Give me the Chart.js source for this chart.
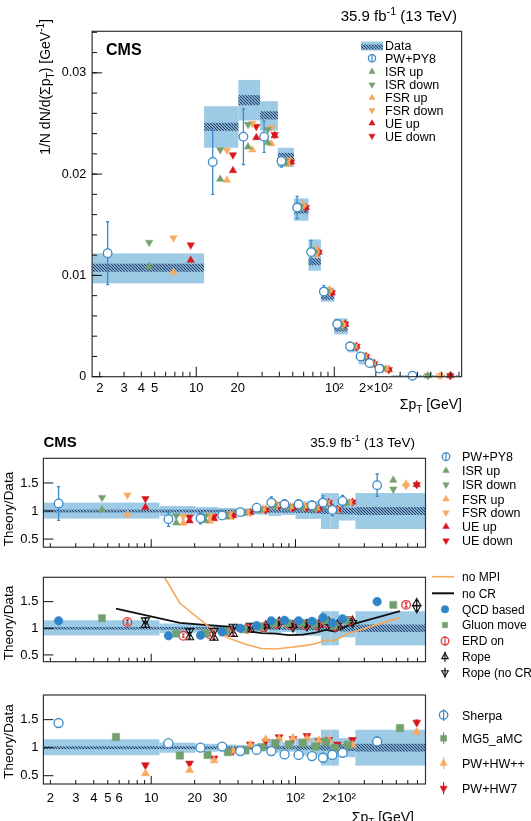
<!DOCTYPE html>
<html><head><meta charset="utf-8">
<script src="https://cdn.jsdelivr.net/npm/chart.js@4.4.1/dist/chart.umd.min.js"></script>
<style>
html,body{margin:0;padding:0;background:#fff;}
#wrap{position:relative;width:531px;height:821px;overflow:hidden;background:#fff;}
canvas{position:absolute;left:0;}
</style></head><body>
<div id="wrap">
<canvas id="c0" style="top:0px"></canvas>
<canvas id="c1" style="top:420px"></canvas>
<canvas id="c2" style="top:560px"></canvas>
<canvas id="c3" style="top:680px"></canvas>
</div>
<script>
// ================= DATA =================
const binEdges = [0, 11.4, 20.2, 29, 39, 51, 65, 80, 100, 125, 150, 175, 200, 260, 800];

// main panel: 1/N dN/d(sum pT)
const dataVal  = [0.01076, 0.02467, 0.0273, 0.0258, 0.0218, 0.0165, 0.01135, 0.0079, 0.00477, 0.00275, 0.00175, 0.0013, 0.00068, 0.00007];
const dataLo   = [0.00921, 0.0226, 0.0253, 0.0243, 0.0207, 0.0154, 0.01046, 0.0074, 0.00418, 0.0024, 0.0012, 0.0009, 0.00057, 0.00005];
const dataHi   = [0.01217, 0.0267, 0.0293, 0.0272, 0.0226, 0.0176, 0.01355, 0.0088, 0.00576, 0.0032, 0.0023, 0.0017, 0.0008, 0.00009];
const dataStat = [0.0004, 0.0004, 0.0005, 0.0004, 0.0003, 0.0004, 0.00035, 0.0003, 0.0003, 0.0002, 0.0002, 0.00015, 0.0001, 0.00005];
const pwpy8    = [0.0122, 0.0212, 0.0237, 0.0237, 0.0213, 0.0167, 0.0123, 0.0084, 0.0052, 0.0030, 0.0020, 0.00135, 0.0008, 0.0001];
const pwpy8Err = [0.0031, 0.0032, 0.00275, 0.00155, 0.0006, 0.0011, 0.00115, 0.0006, 0.00035, 0.0002, 0.00015, 0.0001, 0.00005, 0.00001];
const isrUp    = [0.0109, 0.0195, 0.0227, 0.0231, 0.0211, 0.0167, 0.0124, 0.0084, 0.0052, 0.0030, 0.0020, 0.00135, 0.0008, 0.0001];
const isrDown  = [0.01326, 0.0224, 0.0249, 0.0244, 0.0213, 0.0168, 0.0123, 0.0084, 0.0051, 0.0030, 0.0020, 0.0013, 0.0008, 0.0001];
const fsrUp    = [0.0103, 0.0194, 0.0224, 0.0230, 0.0210, 0.0170, 0.0126, 0.0086, 0.0052, 0.0030, 0.0020, 0.00135, 0.0008, 0.0001];
const fsrDown  = [0.0137, 0.02235, 0.0250, 0.0246, 0.0214, 0.0168, 0.0121, 0.0084, 0.0051, 0.0030, 0.0020, 0.0013, 0.0008, 0.0001];
const ueUp     = [0.0115, 0.02035, 0.0236, 0.0238, 0.0212, 0.0167, 0.0123, 0.0083, 0.0052, 0.0030, 0.0020, 0.0013, 0.0007, 0.0001];
const ueDown   = [0.0130, 0.0219, 0.0247, 0.0239, 0.0212, 0.0167, 0.0123, 0.0083, 0.0052, 0.0030, 0.0020, 0.0013, 0.0007, 0.0001];

// ratio panels: data uncertainty band (relative)
const ratioBandLo = [0.865, 0.91, 0.93, 0.945, 0.955, 0.935, 0.91, 0.93, 0.86, 0.86, 0.68, 0.68, 0.83, 0.68];
const ratioBandHi = [1.15, 1.09, 1.07, 1.055, 1.045, 1.065, 1.15, 1.10, 1.17, 1.18, 1.32, 1.32, 1.17, 1.32];
const ratioStat   = [0.025, 0.025, 0.025, 0.025, 0.025, 0.025, 0.03, 0.03, 0.035, 0.04, 0.05, 0.05, 0.06, 0.07];

// ratio panel 1
const r1PW      = [1.135, 0.855, 0.87, 0.92, 0.98, 1.06, 1.15, 1.12, 1.12, 1.10, 1.15, 1.02, 1.18, 1.46];
const r1PWErr   = [0.30, 0.13, 0.10, 0.06, 0.03, 0.07, 0.10, 0.08, 0.08, 0.08, 0.12, 0.10, 0.10, 0.20];
const r1ISRUp   = [1.02, 0.79, 0.83, 0.895, 0.965, 1.02, 1.09, 1.07, 1.08, 1.05, 1.13, 1.02, 1.14, 1.55];
const r1ISRDown = [1.24, 0.915, 0.91, 0.945, 0.98, 1.03, 1.10, 1.08, 1.07, 1.06, 1.12, 1.03, 1.15, 1.39];
const r1FSRUp   = [0.935, 0.785, 0.82, 0.89, 0.96, 1.04, 1.11, 1.08, 1.09, 1.05, 1.14, 1.01, 1.15, 1.48];
const r1FSRDown = [1.285, 0.905, 0.915, 0.955, 0.985, 1.03, 1.10, 1.07, 1.08, 1.06, 1.15, 1.03, 1.16, 1.45];
const r1UEUp    = [1.065, 0.825, 0.865, 0.92, 0.975, 1.02, 1.09, 1.06, 1.06, 1.04, 1.15, 1.03, 1.16, 1.47];
const r1UEDown  = [1.22, 0.89, 0.905, 0.92, 0.98, 1.02, 1.09, 1.06, 1.06, 1.04, 1.15, 1.03, 1.16, 1.47];

// ratio panel 2
const qcdBased  = [1.14, 0.86, 0.87, 0.93, 1.00, 1.05, 1.14, 1.15, 1.14, 1.13, 1.20, 1.10, 1.18, 1.50];
const gluonMove = [1.19, 0.90, 0.90, 0.94, 0.98, 1.03, 1.10, 1.10, 1.10, 1.08, 1.15, 1.05, 1.15, 1.44];
const erdOn     = [1.12, 0.86, 0.89, 0.93, 0.99, 1.02, 1.08, 1.06, 1.06, 1.06, 1.10, 1.03, 1.14, 1.44];
const erdOnErr  = [0.04, 0.03, 0.03, 0.03, 0.03, 0.03, 0.03, 0.03, 0.03, 0.03, 0.04, 0.04, 0.04, 0.04];
const rope      = [1.06, 0.83, 0.82, 0.89, 0.97, 1.05, 1.12, 1.06, 1.08, 1.07, 1.12, 1.07, 1.14, 1.47];
const ropeNoCR  = [1.15, 0.95, 0.95, 1.03, 1.05, 1.03, 1.08, 1.02, 1.04, 1.05, 1.08, 1.05, 1.10, 1.38];
const ropeErr   = [0.04, 0.03, 0.03, 0.03, 0.03, 0.03, 0.03, 0.03, 0.03, 0.03, 0.04, 0.04, 0.04, 0.05];
const noMPI     = [3.5, 1.47, 1.05, 0.82, 0.70, 0.62, 0.61, 0.64, 0.67, 0.71, 0.78, 0.77, 0.90, 1.20];
const noCR      = [1.37, 1.10, 1.06, 1.03, 0.95, 0.91, 0.90, 0.87, 0.88, 0.92, 0.97, 0.94, 1.05, 1.32];

// ratio panel 3
const sherpa     = [1.44, 1.08, 1.00, 1.02, 0.94, 0.96, 0.94, 0.88, 0.87, 0.85, 0.82, 0.87, 0.91, 1.11];
const sherpaErr  = [0.07, 0.02, 0.02, 0.02, 0.02, 0.02, 0.02, 0.02, 0.02, 0.03, 0.08, 0.05, 0.05, 0.08];
const mg5aMC     = [1.19, 0.86, 0.87, 0.92, 0.95, 1.01, 1.08, 1.06, 1.08, 1.02, 1.10, 1.00, 1.05, 1.35];
const mg5aMCErr  = [0.03, 0.02, 0.02, 0.02, 0.02, 0.02, 0.02, 0.02, 0.02, 0.02, 0.03, 0.03, 0.03, 0.04];
const pwHWpp     = [0.54, 0.60, 0.77, 0.94, 1.05, 1.15, 1.16, 1.17, 1.16, 1.13, 1.14, 0.96, 1.05, 1.28];
const pwHW7      = [0.69, 0.72, 0.81, 0.94, 1.06, 1.11, 1.19, 1.16, 1.21, 1.12, 1.14, 1.06, 1.14, 1.45];
const hwErr      = [0.03, 0.02, 0.02, 0.02, 0.02, 0.02, 0.02, 0.02, 0.02, 0.02, 0.03, 0.03, 0.03, 0.04];

// tick labels
const mainXTickVals    = [2, 3, 4, 5, 10, 20, 100, 200];
const mainXTickLabels  = ['2', '3', '4', '5', '10', '20', '10²', '2×10²'];
const ratioXTickVals   = [2, 3, 4, 5, 6, 10, 20, 30, 100, 200];
const ratioXTickLabels = ['2', '3', '4', '5', '6', '10', '20', '30', '10²', '2×10²'];
const mainYTickVals    = [0, 0.01, 0.02, 0.03];
const mainYTickLabels  = ['0', '0.01', '0.02', '0.03'];
const ratioYTickVals   = [0.5, 1, 1.5];
const ratioYTickLabels = ['0.5', '1', '1.5'];

// ================= STYLE =================
const FONT = "'Liberation Sans', Arial, Helvetica, sans-serif";
const COL = {band:'#9dcbe6', hatch:'#1e3a66', pw:'#3b8bc9', isr:'#76a070', fsr:'#f7aa60', ue:'#d8161e',
             qcd:'#2e86c8', gluon:'#73a06f', erd:'#e03a3a', rope:'#111111', mpi:'#f5a75a', cr:'#111111'};
const OFF = {a:0.2, b:0.4, c:0.6, d:0.8, mid:0.5};

function posInBin(i, frac){ const lo = binEdges[i], hi = binEdges[i+1]; return lo + frac*(hi-lo); }
function pts(vals, frac){ return vals.map((v,i)=>({x: posInBin(i, frac), y: v})); }

const ST = {
  pw:   {shape:'circle',   r:4.3, color:COL.pw,  fill:'#ffffff', bw:1.3},
  isrU: {shape:'triangle', r:4.3, color:COL.isr, fill:COL.isr, bw:0.5},
  isrD: {shape:'triangle', r:4.3, color:COL.isr, fill:COL.isr, bw:0.5, rot:180},
  fsrU: {shape:'triangle', r:4.3, color:COL.fsr, fill:COL.fsr, bw:0.5},
  fsrD: {shape:'triangle', r:4.3, color:COL.fsr, fill:COL.fsr, bw:0.5, rot:180},
  ueU:  {shape:'triangle', r:4.3, color:COL.ue,  fill:COL.ue,  bw:0.5},
  ueD:  {shape:'triangle', r:4.3, color:COL.ue,  fill:COL.ue,  bw:0.5, rot:180},
  qcd:  {shape:'circle',   r:4.3, color:COL.qcd, fill:COL.qcd, bw:0.5},
  glu:  {shape:'rect',     r:5.0, color:COL.gluon, fill:COL.gluon, bw:0.5},
  erd:  {shape:'circle',   r:4.3, color:COL.erd, fill:'rgba(0,0,0,0)', bw:1.3},
  ropeU:{shape:'triangle', r:4.8, color:COL.rope, fill:'rgba(0,0,0,0)', bw:1.1},
  ropeD:{shape:'triangle', r:4.8, color:COL.rope, fill:'rgba(0,0,0,0)', bw:1.1, rot:180},
  she:  {shape:'circle',   r:4.5, color:COL.pw,  fill:'#ffffff', bw:1.3},
  mg5:  {shape:'rect',     r:5.2, color:COL.gluon, fill:COL.gluon, bw:0.5},
  hwpp: {shape:'triangle', r:4.6, color:COL.fsr, fill:COL.fsr, bw:0.5},
  hw7:  {shape:'triangle', r:4.6, color:COL.ue,  fill:COL.ue,  bw:0.5, rot:180}
};

function mk(label, vals, frac, st, errs){
  return {label, data: pts(vals, frac), errs: errs || null,
    pointStyle: st.shape, pointRadius: st.r, pointRotation: st.rot||0,
    pointBackgroundColor: st.fill, pointBorderColor: st.color, pointBorderWidth: st.bw,
    borderColor: st.color, backgroundColor: st.fill, showLine:false, clip:false, order:0};
}
function mkLine(label, vals, color, w){
  return {label, data: pts(vals, OFF.mid), showLine:true, pointRadius:0, borderColor:color,
    backgroundColor:color, borderWidth:w, tension:0, fill:false, order:1};
}

// ================= DRAW HELPERS =================
function rich(ctx, parts, x, y, size, align, bold){
  const f = s => (bold?'bold ':'') + s + 'px ' + FONT;
  let w = 0;
  const items = parts.map(([t,m]) => { const s = m ? size*0.72 : size; ctx.font = f(s); const ww = ctx.measureText(t).width; w += ww; return {t,m,s,ww}; });
  let cx = align==='right' ? x - w : (align==='center' ? x - w/2 : x);
  ctx.textAlign = 'left'; ctx.textBaseline = 'alphabetic';
  for (const it of items){
    ctx.font = f(it.s);
    ctx.fillText(it.t, cx, y + (it.m===1 ? -size*0.42 : (it.m===-1 ? size*0.3 : 0)));
    cx += it.ww;
  }
}
function hatchTile(){
  const c = document.createElement('canvas'); c.width = 3; c.height = 3;
  const g = c.getContext('2d'); g.strokeStyle = COL.hatch; g.lineWidth = 1.1;
  g.beginPath(); for (let k=-3;k<=3;k+=3){ g.moveTo(k,0); g.lineTo(k+3,3); } g.stroke();
  return c;
}
const HATCH = hatchTile();
function marker(ctx, st, x, y, r){
  ctx.save(); ctx.fillStyle = st.fill; ctx.strokeStyle = st.color; ctx.lineWidth = st.bw;
  Chart.helpers.drawPoint(ctx, {pointStyle: st.shape, radius: r || st.r, rotation: st.rot||0, borderWidth: st.bw}, x, y);
  ctx.restore();
}

function panelPlugin(p){
  return {
    id: 'panel' + p.key,
    beforeDatasetsDraw(chart){
      const {ctx, chartArea:a, scales:{x, y}} = chart;
      ctx.save();
      ctx.beginPath(); ctx.rect(a.left, a.top, a.right-a.left, a.bottom-a.top); ctx.clip();
      const pat = ctx.createPattern(HATCH, 'repeat');
      for (let i=0;i<binEdges.length-1;i++){
        const x1 = x.getPixelForValue(Math.max(binEdges[i], x.min));
        const x2 = x.getPixelForValue(Math.min(binEdges[i+1], x.max));
        const yh = y.getPixelForValue(p.band.hi[i]), yl = y.getPixelForValue(p.band.lo[i]);
        ctx.fillStyle = COL.band; ctx.fillRect(x1, yh, x2-x1, yl-yh);
      }
      for (let i=0;i<binEdges.length-1;i++){
        const x1 = x.getPixelForValue(Math.max(binEdges[i], x.min));
        const x2 = x.getPixelForValue(Math.min(binEdges[i+1], x.max));
        const c = p.band.c ? p.band.c[i] : 1;
        const y1 = y.getPixelForValue(c + p.band.s[i]), y2 = y.getPixelForValue(c - p.band.s[i]);
        ctx.fillStyle = pat; ctx.fillRect(x1, y1, x2-x1, y2-y1);
      }
      ctx.restore();
      chart.data.datasets.forEach((ds, di) => {
        if (!ds.errs) return;
        const meta = chart.getDatasetMeta(di);
        ctx.save(); ctx.strokeStyle = ds.borderColor; ctx.lineWidth = 1.3;
        meta.data.forEach((el, k) => {
          const v = ds.data[k].y, e = ds.errs[k];
          const y1 = y.getPixelForValue(v + e), y2 = y.getPixelForValue(v - e);
          ctx.beginPath();
          ctx.moveTo(el.x, y1); ctx.lineTo(el.x, y2);
          ctx.moveTo(el.x-1.6, y1); ctx.lineTo(el.x+1.6, y1);
          ctx.moveTo(el.x-1.6, y2); ctx.lineTo(el.x+1.6, y2);
          ctx.stroke();
        });
        ctx.restore();
      });
    },
    afterDraw(chart){
      const {ctx, chartArea:a, scales:{x, y}} = chart;
      ctx.save();
      // frame
      ctx.strokeStyle = '#333'; ctx.lineWidth = 1.2;
      ctx.strokeRect(a.left, a.top, a.right-a.left, a.bottom-a.top);
      // inward ticks
      ctx.strokeStyle = '#111'; ctx.lineWidth = 1;
      ctx.beginPath();
      const T = p.ticks;
      const xMinor = [];
      [1,10,100].forEach(d => { for (let m=2;m<=9;m++) xMinor.push(m*d); });
      xMinor.forEach(v => { if (v<=x.min||v>=x.max) return; const px = x.getPixelForValue(v); ctx.moveTo(px, a.bottom); ctx.lineTo(px, a.bottom - T.xMin); });
      [10,100].forEach(v => { const px = x.getPixelForValue(v); ctx.moveTo(px, a.bottom); ctx.lineTo(px, a.bottom - T.xMaj); });
      T.yMajor.forEach(v => { const py = y.getPixelForValue(v); ctx.moveTo(a.left, py); ctx.lineTo(a.left + T.yMaj, py); });
      (T.yMinor||[]).forEach(v => { if (v<y.min||v>y.max) return; const py = y.getPixelForValue(v); ctx.moveTo(a.left, py); ctx.lineTo(a.left + T.yMin, py); });
      ctx.stroke();
      // legend
      const L = p.legend;
      ctx.fillStyle = '#000';
      L.items.forEach(it => {
        if (it.kind === 'data'){
          ctx.fillStyle = COL.band; ctx.fillRect(L.mx - 11, it.y - 4, 22, 9);
          ctx.fillStyle = ctx.createPattern(HATCH, 'repeat'); ctx.fillRect(L.mx - 11, it.y - 1, 22, 5);
        } else if (it.kind === 'line'){
          ctx.strokeStyle = it.color; ctx.lineWidth = it.w; ctx.beginPath();
          ctx.moveTo(L.mx - 13, it.y); ctx.lineTo(L.mx + 9, it.y); ctx.stroke();
        } else {
          if (it.bar){ ctx.strokeStyle = it.st.color; ctx.lineWidth = 1.2; ctx.beginPath(); ctx.moveTo(L.mx, it.y - it.bar); ctx.lineTo(L.mx, it.y + it.bar); ctx.stroke(); }
          const st = Object.assign({}, it.st); if (it.bar && st.fill === '#ffffff') st.fill = 'rgba(0,0,0,0)';
          marker(ctx, st, L.mx, it.y, L.r);
        }
        ctx.fillStyle = '#000';
        rich(ctx, [[it.label,0]], L.tx, it.y + L.size*0.36, L.size, 'left', false);
      });
      // texts
      ctx.fillStyle = '#000';
      p.texts.forEach(t => {
        if (t.rot){
          ctx.save(); ctx.translate(t.x, t.y); ctx.rotate(-Math.PI/2);
          rich(ctx, t.parts, 0, 0, t.size, t.align, t.bold); ctx.restore();
        } else rich(ctx, t.parts, t.x, t.y, t.size, t.align, t.bold);
      });
      ctx.restore();
    }
  };
}

function makeChart(p){
  const cv = document.getElementById(p.key);
  cv.width = 531; cv.height = p.h; cv.style.width = '531px'; cv.style.height = p.h + 'px';
  return new Chart(cv, {
    type: 'scatter',
    data: {datasets: p.datasets},
    options: {
      responsive:false, animation:false, events:[],
      layout:{autoPadding:false, padding:{left:0, right:531 - p.area.r, top:p.area.t, bottom:0}},
      plugins:{legend:{display:false}, tooltip:{enabled:false}},
      scales:{
        x:{type:'logarithmic', position:'bottom', min:p.xr[0], max:p.xr[1],
           afterFit: s => { s.height = p.h - p.area.b; },
           afterBuildTicks: s => { s.ticks = p.xt.map(v => ({value:v})); },
           ticks:{display: p.xLabels, autoSkip:false, maxRotation:0, minRotation:0, padding:p.xPad,
                  color:'#000', font:{family:FONT, size:13},
                  callback: v => p.xl[p.xt.indexOf(v)]},
           grid:{display:false, drawTicks:false}, border:{display:false}},
        y:{type:'linear', position:'left', min:p.yr[0], max:p.yr[1],
           afterFit: s => { s.width = p.area.l; },
           afterBuildTicks: s => { s.ticks = p.yt.map(v => ({value:v})); },
           ticks:{autoSkip:false, padding:p.yPad, color:'#000', font:{family:FONT, size:p.ySize},
                  callback: v => p.yl[p.yt.indexOf(v)]},
           grid:{display:false, drawTicks:false}, border:{display:false}}
      }
    },
    plugins:[panelPlugin(p)]
  });
}

const mainYMinor = []; for (let k=1;k<=17;k++) mainYMinor.push(k*0.002);
const lumi = (sz,x,y) => ({parts:[['35.9 fb',0],['-1',1],[' (13 TeV)',0]], x, y, size:sz, align:'right'});
const ratioTitle = (y) => ({parts:[['Theory/Data',0]], x:12.5, y, size:13.5, align:'center', rot:true});

// ---- main panel ----
makeChart({key:'c0', h:420, area:{l:92.1, r:461.6, t:31.3, b:376.7},
  xr:[1.76, 836], yr:[0, 0.0341], xt:mainXTickVals, xl:mainXTickLabels, xLabels:true, xPad:4,
  yt:mainYTickVals, yl:mainYTickLabels, yPad:6, ySize:12.5,
  band:{lo:dataLo, hi:dataHi, c:dataVal, s:dataStat},
  ticks:{xMin:5, xMaj:10, yMaj:10, yMin:5, yMajor:mainYTickVals, yMinor:mainYMinor},
  datasets:[
    mk('PW+PY8', pwpy8, OFF.a, ST.pw, pwpy8Err),
    mk('ISR up', isrUp, OFF.b, ST.isrU), mk('ISR down', isrDown, OFF.b, ST.isrD),
    mk('FSR up', fsrUp, OFF.c, ST.fsrU), mk('FSR down', fsrDown, OFF.c, ST.fsrD),
    mk('UE up', ueUp, OFF.d, ST.ueU), mk('UE down', ueDown, OFF.d, ST.ueD)
  ],
  legend:{mx:372, tx:385, size:12.5, r:3.6, items:[
    {kind:'data', label:'Data', y:45.5},
    {label:'PW+PY8', st:ST.pw, y:58.3, bar:4},
    {label:'ISR up', st:ST.isrU, y:71.7}, {label:'ISR down', st:ST.isrD, y:84.7},
    {label:'FSR up', st:ST.fsrU, y:97.7}, {label:'FSR down', st:ST.fsrD, y:110.3},
    {label:'UE up', st:ST.ueU, y:123.3}, {label:'UE down', st:ST.ueD, y:136}
  ]},
  texts:[
    lumi(15, 457, 21),
    {parts:[['CMS',0]], x:106, y:55, size:16, align:'left', bold:true},
    {parts:[['1/N dN/d(Σp',0],['T',-1],[') [GeV',0],['-1',1],[']',0]], x:50, y:19, size:14, align:'right', rot:true},
    {parts:[['Σp',0],['T',-1],[' [GeV]',0]], x:462, y:409, size:14, align:'right'}
  ]
});

const ratioBand = {lo:ratioBandLo, hi:ratioBandHi, c:null, s:ratioStat};
const ratioTicks = {xMin:4, xMaj:8, yMaj:10, yMin:0, yMajor:ratioYTickVals};

// ---- ratio panel 1 ----
makeChart({key:'c1', h:140, area:{l:43.4, r:425.5, t:38.3, b:128.3},
  xr:[1.79, 796], yr:[0.355, 1.94], xt:ratioXTickVals, xl:ratioXTickLabels, xLabels:false, xPad:7,
  yt:ratioYTickVals, yl:ratioYTickLabels, yPad:5, ySize:13,
  band:ratioBand, ticks:ratioTicks,
  datasets:[
    mk('PW+PY8', r1PW, OFF.a, ST.pw, r1PWErr),
    mk('ISR up', r1ISRUp, OFF.b, ST.isrU), mk('ISR down', r1ISRDown, OFF.b, ST.isrD),
    mk('FSR up', r1FSRUp, OFF.c, ST.fsrU), mk('FSR down', r1FSRDown, OFF.c, ST.fsrD),
    mk('UE up', r1UEUp, OFF.d, ST.ueU), mk('UE down', r1UEDown, OFF.d, ST.ueD)
  ],
  legend:{mx:446, tx:462, size:12.5, r:3.8, items:[
    {label:'PW+PY8', st:ST.pw, y:36.7, bar:4.5},
    {label:'ISR up', st:ST.isrU, y:50.7}, {label:'ISR down', st:ST.isrD, y:64.7},
    {label:'FSR up', st:ST.fsrU, y:79}, {label:'FSR down', st:ST.fsrD, y:92.7},
    {label:'UE up', st:ST.ueU, y:106.7}, {label:'UE down', st:ST.ueD, y:120.7}
  ]},
  texts:[
    {parts:[['CMS',0]], x:43.5, y:27, size:15, align:'left', bold:true},
    lumi(13.5, 415, 27),
    ratioTitle(89)
  ]
});

// ---- ratio panel 2 ----
makeChart({key:'c2', h:120, area:{l:43.4, r:425.5, t:17.3, b:101.7},
  xr:[1.79, 796], yr:[0.373, 1.957], xt:ratioXTickVals, xl:ratioXTickLabels, xLabels:false, xPad:7,
  yt:ratioYTickVals, yl:ratioYTickLabels, yPad:5, ySize:13,
  band:ratioBand, ticks:ratioTicks,
  datasets:[
    mkLine('no MPI', noMPI, COL.mpi, 1.6),
    mkLine('no CR', noCR, COL.cr, 1.8),
    mk('QCD based', qcdBased, OFF.a, ST.qcd),
    mk('Gluon move', gluonMove, OFF.b, ST.glu),
    mk('ERD on', erdOn, OFF.c, ST.erd, erdOnErr),
    mk('Rope', rope, OFF.d, ST.ropeU, ropeErr),
    mk('Rope (no CR)', ropeNoCR, OFF.d, ST.ropeD, ropeErr)
  ],
  legend:{mx:445, tx:462, size:12, r:3.8, items:[
    {kind:'line', label:'no MPI', color:COL.mpi, w:1.6, y:16.7},
    {kind:'line', label:'no CR', color:COL.cr, w:2, y:33.3},
    {label:'QCD based', st:ST.qcd, y:49.3},
    {label:'Gluon move', st:ST.glu, y:65},
    {label:'ERD on', st:ST.erd, y:81, bar:5},
    {label:'Rope', st:ST.ropeU, y:96.7, bar:5},
    {label:'Rope (no CR)', st:ST.ropeD, y:112.7, bar:5}
  ]},
  texts:[ ratioTitle(63) ]
});

// ---- ratio panel 3 ----
makeChart({key:'c3', h:141, area:{l:43.4, r:425.5, t:15, b:104},
  xr:[1.79, 796], yr:[0.352, 1.94], xt:ratioXTickVals, xl:ratioXTickLabels, xLabels:true, xPad:7,
  yt:ratioYTickVals, yl:ratioYTickLabels, yPad:5, ySize:13,
  band:ratioBand, ticks:ratioTicks,
  datasets:[
    mk('Sherpa', sherpa, OFF.a, ST.she, sherpaErr),
    mk('MG5_aMC', mg5aMC, OFF.mid, ST.mg5, mg5aMCErr),
    mk('PW+HW++', pwHWpp, OFF.d, ST.hwpp, hwErr),
    mk('PW+HW7', pwHW7, OFF.d, ST.hw7, hwErr)
  ],
  legend:{mx:443.6, tx:462, size:12.5, r:4.2, items:[
    {label:'Sherpa', st:ST.she, y:35, bar:6},
    {label:'MG5_aMC', st:ST.mg5, y:58.3, bar:6},
    {label:'PW+HW++', st:ST.hwpp, y:83.3, bar:6},
    {label:'PW+HW7', st:ST.hw7, y:108.3, bar:6}
  ]},
  texts:[
    ratioTitle(61.5),
    {parts:[['Σp',0],['T',-1],[' [GeV]',0]], x:414, y:141.5, size:14, align:'right'}
  ]
});
</script>
</body></html>
